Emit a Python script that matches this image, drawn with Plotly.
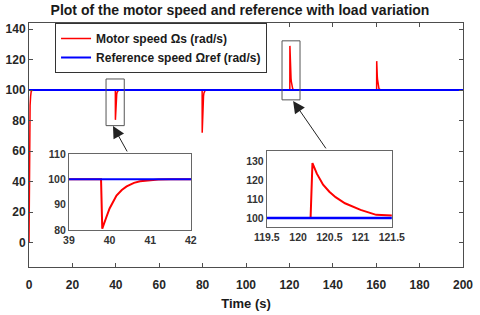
import plotly.graph_objects as go

# ---------------- data ----------------
t_motor = [0, 0.1, 0.25, 0.5, 0.75, 1.0, 1.5,
           39.79, 39.82, 39.92, 40.0, 40.17, 40.3, 40.42, 40.6, 40.75, 41.0, 41.2, 41.5,
           79.79, 79.82, 79.92, 80.0, 80.17, 80.3, 80.42, 80.6, 80.75, 81.0, 81.2, 81.5,
           120.2, 120.23, 120.3, 120.4, 120.5, 120.6, 120.75, 120.9, 121.0, 121.25, 121.5, 122.0, 122.5,
           160.2, 160.23, 160.3, 160.4, 160.5, 160.6, 160.75, 160.9, 161.0, 161.25, 161.5, 162.0, 162.5,
           200]
w_motor = [0, 35, 70, 90, 96, 99, 100,
           100, 80.5, 85, 88.5, 93.6, 95.8, 97.2, 98.6, 99.2, 99.7, 99.9, 100,
           100, 72, 78.4, 83.5, 90.8, 94, 96, 98, 98.8, 99.6, 99.9, 100,
           100, 129, 123.4, 117.6, 113.9, 111, 107.8, 105.5, 104.3, 101.7, 100.9, 100.2, 100,
           100, 119, 115.3, 111.8, 109.1, 107.2, 105.1, 103.6, 102.8, 101.1, 100.6, 100.1, 100,
           100]
t_ref = [0, 200]
w_ref = [100, 100]

x_ticks_main = [0, 20, 40, 60, 80, 100, 120, 140, 160, 180, 200]
y_ticks_main = [0, 20, 40, 60, 80, 100, 120, 140]
x_ticks_in1 = [39, 40, 41, 42]
y_ticks_in1 = [80, 90, 100, 110]
x_ticks_in2 = [119.5, 120, 120.5, 121, 121.5]
y_ticks_in2 = [100, 110, 120, 130]

RED = "#ff0000"
BLUE = "#0000ff"
FONT = "Liberation Sans"
AX = "#4d4d4d"

fig = go.Figure()

# main traces
fig.add_trace(go.Scatter(x=t_motor, y=w_motor, mode="lines",
                         line=dict(color=RED, width=1.5),
                         name="Motor speed Ωs (rad/s)"))
fig.add_trace(go.Scatter(x=t_ref, y=w_ref, mode="lines",
                         line=dict(color=BLUE, width=2),
                         name="Reference speed Ωref (rad/s)"))

# inset 1
fig.add_trace(go.Scatter(x=t_motor, y=w_motor, mode="lines", xaxis="x2", yaxis="y2",
                         line=dict(color=RED, width=2), showlegend=False))
fig.add_trace(go.Scatter(x=t_ref, y=w_ref, mode="lines", xaxis="x2", yaxis="y2",
                         line=dict(color=BLUE, width=2), showlegend=False))
# inset 2
fig.add_trace(go.Scatter(x=t_motor, y=w_motor, mode="lines", xaxis="x3", yaxis="y3",
                         line=dict(color=RED, width=2), showlegend=False))
fig.add_trace(go.Scatter(x=t_ref, y=w_ref, mode="lines", xaxis="x3", yaxis="y3",
                         line=dict(color=BLUE, width=2.5), showlegend=False))

tickfont_main = dict(family=FONT, size=12, color="#262626", weight="bold")
tickfont_in = dict(family=FONT, size=10.5, color="#333333", weight="bold")

inset_ax = dict(showline=True, linecolor="#666666", mirror=True, showgrid=False, zeroline=False,
                ticks="", tickfont=tickfont_in, automargin=False)

fig.update_layout(
    width=480, height=315,
    margin=dict(l=29, r=17, t=23, b=48, autoexpand=False),
    paper_bgcolor="white", plot_bgcolor="white",
    font=dict(family=FONT),
    title=dict(text="Plot of the motor speed and reference with load variation",
               x=0.5, xanchor="center", y=0.985, yanchor="top", automargin=False,
               font=dict(family=FONT, size=14, color="#1a1a1a", weight="bold")),
    xaxis=dict(range=[0, 200], tickvals=x_ticks_main, ticks="inside", ticklen=4,
               showline=True, linecolor=AX, mirror="ticks", showgrid=False, zeroline=False,
               tickcolor=AX, tickfont=tickfont_main, automargin=False, ticklabelstandoff=7,
               title=dict(text="Time (s)", font=dict(family=FONT, size=13, color="#1a1a1a", weight="bold"),
                          standoff=7)),
    yaxis=dict(range=[-16, 144], tickvals=y_ticks_main, ticks="inside", ticklen=4,
               showline=True, linecolor=AX, mirror="ticks", showgrid=False, zeroline=False,
               tickcolor=AX, tickfont=tickfont_main, automargin=False),
    xaxis2=dict(domain=[0.092, 0.373], anchor="y2", range=[39, 42], tickvals=x_ticks_in1, **inset_ax),
    yaxis2=dict(domain=[0.152, 0.463], anchor="x2", range=[80, 110], tickvals=y_ticks_in1, **inset_ax),
    xaxis3=dict(domain=[0.548, 0.836], anchor="y3", range=[119.5, 121.5], tickvals=x_ticks_in2, **inset_ax),
    yaxis3=dict(domain=[0.164, 0.475], anchor="x3", range=[95.3, 135.3], tickvals=y_ticks_in2, **inset_ax),
    legend=dict(x=0.06, y=1.0, xanchor="left", yanchor="top",
                bgcolor="white", bordercolor="#333333", borderwidth=1,
                font=dict(family=FONT, size=12, color="#1a1a1a", weight="bold"),
                tracegroupgap=0, itemwidth=30),
    showlegend=True,
)

# zoom boxes on main axes
fig.add_shape(type="rect", xref="x", yref="y", x0=35.5, x1=43.9, y0=76.7, y1=107.3,
              line=dict(color="#555555", width=1))
fig.add_shape(type="rect", xref="x", yref="y", x0=116.6, x1=124.9, y0=93.6, y1=132.3,
              line=dict(color="#555555", width=1))

# arrows
fig.add_annotation(x=38.7, y=76.5, ax=45.6, ay=58.8, xref="x", yref="y", axref="x", ayref="y",
                   showarrow=True, arrowhead=2, arrowsize=2.4, arrowwidth=1, arrowcolor="#222222", text="")
fig.add_annotation(x=121.7, y=92.9, ax=137.3, ay=60.8, xref="x", yref="y", axref="x", ayref="y",
                   showarrow=True, arrowhead=2, arrowsize=2.4, arrowwidth=1, arrowcolor="#222222", text="")

# remove the browser's default 8px page margin so the 480x315 figure fills the window
fig.write_html("out.html", config={"displayModeBar": False},
               post_script="document.body.style.margin='0px';")
